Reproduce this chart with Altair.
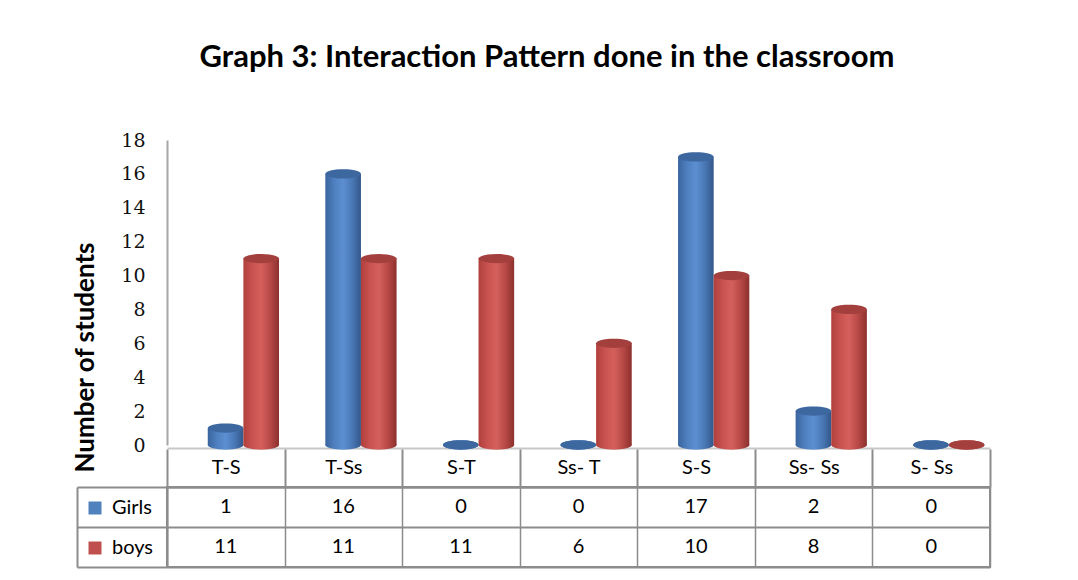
import altair as alt
import pandas as pd

# ---- data ----
categories = ["T-S", "T-Ss", "S-T", "Ss- T", "S-S", "Ss- Ss", "S- Ss"]
series = ["Girls", "boys"]
girls = [1, 16, 0, 0, 17, 2, 0]
boys = [11, 11, 11, 6, 10, 8, 0]
y_ticks = [0, 2, 4, 6, 8, 10, 12, 14, 16, 18]

cap_colors = {"Girls": "#3c679f", "boys": "#a3403d"}
legend_colors = ["#4f81bd", "#c0504d"]
body_stops = {
    "Girls": ["#3a659e", "#4f7fbf", "#5c8fd2", "#4a78b6", "#33578a"],
    "boys": ["#b0403d", "#c8524f", "#d4605c", "#b84946", "#8c302d"],
}

FONT = "Lato"
GRID = "#8c8c8c"

rows = []
for c, g, b in zip(categories, girls, boys):
    rows.append({"category": c, "series": "Girls", "value": g})
    rows.append({"category": c, "series": "boys", "value": b})
df = pd.DataFrame(rows)

W = 823
H_BAR = 305
H_TAB = 80
PAD_OUT = 0.65

x_scale = alt.Scale(domain=categories, paddingInner=0, paddingOuter=0)
xoff_scale = alt.Scale(domain=series, paddingInner=0, paddingOuter=PAD_OUT, align=0.88)
y_scale = alt.Scale(domain=[0, 18], nice=False)

y_axis = alt.Axis(values=y_ticks, title="Number of students", grid=False,
                  ticks=False, domainColor="#a6a6a6", domainWidth=2,
                  labelPadding=22, labelFontSize=19, labelFont="DejaVu Serif",
                  labelOverlap=False, labelColor="#111",
                  titleFont=FONT, titleFontSize=26,
                  titleFontWeight="bold", titleColor="#000",
                  titleX=-82, titleY=217, titleAngle=270, titleAlign="center",
                  titleBaseline="middle")
x_axis = alt.Axis(title=None, labels=False, ticks=False, domain=True, offset=3,
                  domainColor="#c8c8c8", domainWidth=2, grid=False)


def grad(stops):
    n = len(stops) - 1
    return alt.Gradient(
        gradient="linear", x1=0, x2=1, y1=0, y2=0,
        stops=[alt.GradientStop(offset=i / n, color=c) for i, c in enumerate(stops)],
    )


ellipse = "M -1 0 A 1 0.26 0 1 1 1 0 A 1 0.26 0 1 1 -1 0 Z"
bar_w = W / len(categories) / (2 + 2 * PAD_OUT)

enc = dict(
    x=alt.X("category:N", sort=categories, scale=x_scale, axis=x_axis),
    xOffset=alt.XOffset("series:N", scale=xoff_scale),
)

layers = []
for s in series:
    base = alt.Chart(df).transform_filter(alt.datum.series == s)
    bottom = base.mark_point(shape=ellipse, filled=True, opacity=1, strokeWidth=0,
                             size=bar_w ** 2, color=grad(body_stops[s])).encode(
        y=alt.datum(0, scale=y_scale, axis=y_axis), **enc)
    body = base.mark_bar(color=grad(body_stops[s])).encode(
        y=alt.Y("value:Q", scale=y_scale, axis=y_axis), **enc)
    top = base.mark_point(shape=ellipse, filled=True, opacity=1, strokeWidth=0,
                          size=bar_w ** 2, color=cap_colors[s]).encode(
        y=alt.Y("value:Q", scale=y_scale, axis=y_axis), **enc)
    layers += [bottom, body, top]

legend_layer = alt.Chart(df).mark_point(opacity=0, filled=True).encode(
    y=alt.Y("value:Q", scale=y_scale, axis=y_axis),
    color=alt.Color("series:N", scale=alt.Scale(domain=series, range=legend_colors),
                    legend=alt.Legend(title=None, orient="none", legendX=-82, legendY=358,
                                      symbolType="square", symbolSize=169, symbolOpacity=1,
                                      labelFont=FONT, labelFontSize=20, labelColor="#000",
                                      rowPadding=20, labelOffset=7, symbolStrokeWidth=0)),
    **enc)
layers.append(legend_layer)

bars = alt.layer(*layers).properties(
    width=W, height=H_BAR, view=alt.ViewBackground(stroke="transparent", strokeWidth=0))

# ---- data table ----
tab_x = alt.X("category:N", sort=categories, scale=x_scale,
              axis=alt.Axis(orient="top", title=None, labelFont=FONT, labelFontSize=20,
                            labelColor="#000", labelAngle=0, tickBand="extent", tickSize=38,
                            tickColor=GRID, tickWidth=2, labelPadding=-28, domainColor=GRID,
                            domainWidth=2, grid=True, gridColor=GRID, gridOpacity=1,
                            gridWidth=1.5))
tab_y_scale = alt.Scale(domain=series, paddingInner=0, paddingOuter=0)

values_layer = alt.Chart(df).mark_text(font=FONT, fontSize=20, color="#000").encode(
    x=tab_x,
    y=alt.Y("series:N", scale=tab_y_scale,
            axis=alt.Axis(title=None, labels=False, tickBand="extent", tickSize=90,
                          tickColor=GRID, tickWidth=2, domainColor=GRID, domainWidth=2,
                          grid=True, gridColor=GRID, gridOpacity=1, gridWidth=2)),
    text="value:Q",
)
border_layer = alt.Chart(df).mark_text(opacity=0).encode(
    y=alt.Y("series:N", scale=tab_y_scale,
            axis=alt.Axis(title=None, labels=False, ticks=False, grid=False, offset=90,
                          orient="left", domainColor=GRID, domainWidth=2)),
    text="value:Q",
)
table = alt.layer(values_layer, border_layer).resolve_axis(y="independent").properties(
    width=W, height=H_TAB, view=alt.ViewBackground(stroke=GRID, strokeWidth=2))

chart = alt.vconcat(bars, table, spacing=42, bounds="flush").properties(
    title=alt.Title("Graph 3: Interaction Pattern done in the classroom", font=FONT,
                    fontSize=31, fontWeight="bold", color="#000", anchor="middle",
                    offset=57, dx=15),
    padding={"left": 64, "top": 34, "right": 70, "bottom": 4},
).configure(background="white")

chart.save("out.html", embed_options={"renderer": "svg", "actions": False})
